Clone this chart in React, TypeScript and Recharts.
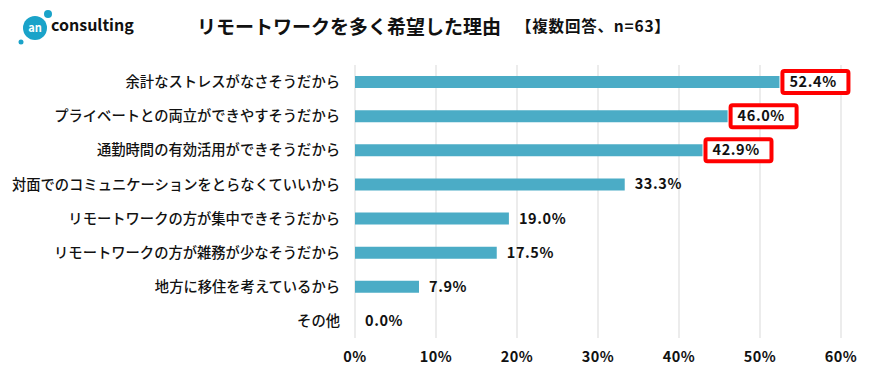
import { BarChart, Bar, XAxis, YAxis, CartesianGrid } from 'recharts';

const reasons = [
  '余計なストレスがなさそうだから',
  'プライベートとの両立ができやすそうだから',
  '通勤時間の有効活用ができそうだから',
  '対面でのコミュニケーションをとらなくていいから',
  'リモートワークの方が集中できそうだから',
  'リモートワークの方が雑務が少なそうだから',
  '地方に移住を考えているから',
  'その他',
];
const shares = [52.4, 46.0, 42.9, 33.3, 19.0, 17.5, 7.9, 0.0];
const xTicks = [0, 10, 20, 30, 40, 50, 60];
const highlighted = 3; // top 3 get a red box

const data = reasons.map((name, i) => ({ name, value: shares[i] }));

const FONT = '"Noto Sans CJK JP", "Noto Sans", sans-serif';
const BAR_COLOR = '#4BACC6';

function ValueLabel(props: any) {
  const { x, y, width, height, value, index } = props;
  const endX = x + (width || 0);
  const cy = y + height / 2;
  const text = `${Number(value).toFixed(1)}%`;
  return (
    <g>
      {index < highlighted && (
        <rect
          x={endX + 3}
          y={cy - 11}
          width={66}
          height={22}
          rx={2}
          fill="#fff"
          stroke="#FF0000"
          strokeWidth={4}
        />
      )}
      <text
        x={endX + 10}
        y={cy}
        dy={5}
        fill="#111"
        fontSize={14.5}
        fontWeight={700}
        letterSpacing={0.6}
        fontFamily={FONT}
      >
        {text}
      </text>
    </g>
  );
}

function Logo() {
  return (
    <svg width={150} height={55} style={{ position: 'absolute', left: 0, top: 0 }}>
      <circle cx={35} cy={28} r={12} fill="#1AA3C9" />
      <circle cx={48} cy={14} r={4} fill="#1AA3C9" />
      <circle cx={21} cy={42} r={2.5} fill="#1AA3C9" />
      <text x={35} y={32} textAnchor="middle" fill="#fff" fontSize={11} fontWeight={700} fontFamily={FONT}>
        an
      </text>
      <text x={51} y={31} fill="#111" fontSize={16} fontWeight={700} fontFamily={FONT}>
        consulting
      </text>
    </svg>
  );
}

export default function App() {
  return (
    <div style={{ position: 'relative', width: 872, height: 378, margin: -8, background: '#fff', fontFamily: FONT }}>
      <Logo />
      <div style={{ position: 'absolute', left: 197, top: 12, fontSize: 19, fontWeight: 700, color: '#111', whiteSpace: 'nowrap' }}>
        リモートワークを多く希望した理由
      </div>
      <div style={{ position: 'absolute', left: 516, top: 14, fontSize: 15.5, fontWeight: 700, color: '#111', whiteSpace: 'nowrap', letterSpacing: 0.8 }}>
        【複数回答、n=63】
      </div>
      <div style={{ position: 'absolute', left: 0, top: 0 }}>
        <BarChart
          width={872}
          height={378}
          data={data}
          layout="vertical"
          margin={{ top: 65, right: 31, left: 0, bottom: 0 }}
          barCategoryGap={11}
        >
          <CartesianGrid horizontal={false} stroke="#D9D9D9" />
          <XAxis
            type="number"
            domain={[0, 60]}
            ticks={xTicks}
            tickFormatter={(v) => `${v}%`}
            axisLine={false}
            tickLine={false}
            tickSize={0}
            tickMargin={14}
            height={40}
            tick={{ fill: '#111', fontSize: 14.5, fontWeight: 700, fontFamily: FONT, letterSpacing: 0.5 }}
          />
          <YAxis
            type="category"
            dataKey="name"
            width={355}
            axisLine={false}
            tickLine={false}
            tickSize={0}
            tickMargin={15}
            interval={0}
            tick={{ fill: '#111', fontSize: 14.3, fontWeight: 500, fontFamily: FONT }}
          />
          <Bar
            dataKey="value"
            fill={BAR_COLOR}
            barSize={12}
            minPointSize={(v: number) => (v === 0 ? 0.01 : 0)}
            isAnimationActive={false}
            label={ValueLabel}
          />
        </BarChart>
      </div>
    </div>
  );
}
